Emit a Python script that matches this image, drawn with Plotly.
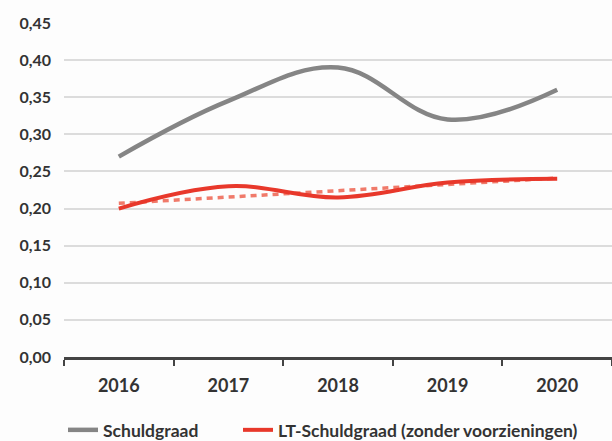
import numpy as np
import plotly.graph_objects as go

years = ["2016", "2017", "2018", "2019", "2020"]
schuldgraad = [0.27, 0.345, 0.39, 0.32, 0.36]
lt_schuldgraad = [0.20, 0.23, 0.215, 0.235, 0.24]
y_ticks = [0.00, 0.05, 0.10, 0.15, 0.20, 0.25, 0.30, 0.35, 0.40, 0.45]

# linear trend of the long-term debt ratio
idx = np.arange(len(years))
slope, intercept = np.polyfit(idx, lt_schuldgraad, 1)
lt_trend = list(intercept + slope * idx)

FONT = "Lato, Open Sans, sans-serif"
TXT = "#333333"
LEG_FONT = dict(size=17.5, family=FONT, color=TXT, weight="bold")

fig = go.Figure()
fig.add_trace(go.Scatter(
    x=years, y=schuldgraad, name="Schuldgraad", mode="lines", legend="legend",
    line=dict(color="#858585", width=4.5, shape="spline", smoothing=1.1),
))
fig.add_trace(go.Scatter(
    x=years, y=lt_trend, mode="lines", showlegend=False, hoverinfo="skip",
    line=dict(color="#f07a6a", width=3.5, dash="6px,5px"),
))
fig.add_trace(go.Scatter(
    x=years, y=lt_schuldgraad, name="LT-Schuldgraad (zonder voorzieningen)",
    mode="lines", legend="legend2",
    line=dict(color="#e8382b", width=4, shape="spline", smoothing=1.1),
))

fig.update_layout(
    width=612, height=441,
    margin=dict(l=64, r=0, t=23, b=84),
    paper_bgcolor="#fdfdfd", plot_bgcolor="#fdfdfd",
    separators=",.",
    font=dict(family=FONT, color=TXT),
    showlegend=True,
    legend=dict(
        orientation="h", xref="container", yref="container",
        x=63 / 612, y=0.025, xanchor="left", yanchor="middle",
        font=LEG_FONT, bgcolor="rgba(0,0,0,0)",
    ),
    legend2=dict(
        orientation="h", xref="container", yref="container",
        x=238 / 612, y=0.025, xanchor="left", yanchor="middle",
        font=LEG_FONT, bgcolor="rgba(0,0,0,0)",
    ),
    xaxis=dict(
        type="category", range=[-0.5, 4.5],
        showgrid=False, showline=True, linecolor="#444444", linewidth=2.5,
        ticks="outside", tickson="boundaries", ticklen=6, tickwidth=2,
        tickcolor="#444444",
        tickfont=dict(size=18, family=FONT, color=TXT, weight="bold"),
        ticklabelstandoff=11,
    ),
    yaxis=dict(
        range=[0, 0.45], tickvals=y_ticks, tickformat=".2f",
        showgrid=True, gridcolor="#dcdcdc", gridwidth=2,
        zeroline=False, showline=False, ticks="",
        tickfont=dict(size=16, family=FONT, color=TXT, weight="bold"),
        ticklabelstandoff=12,
    ),
)

fig.write_html("out.html")
